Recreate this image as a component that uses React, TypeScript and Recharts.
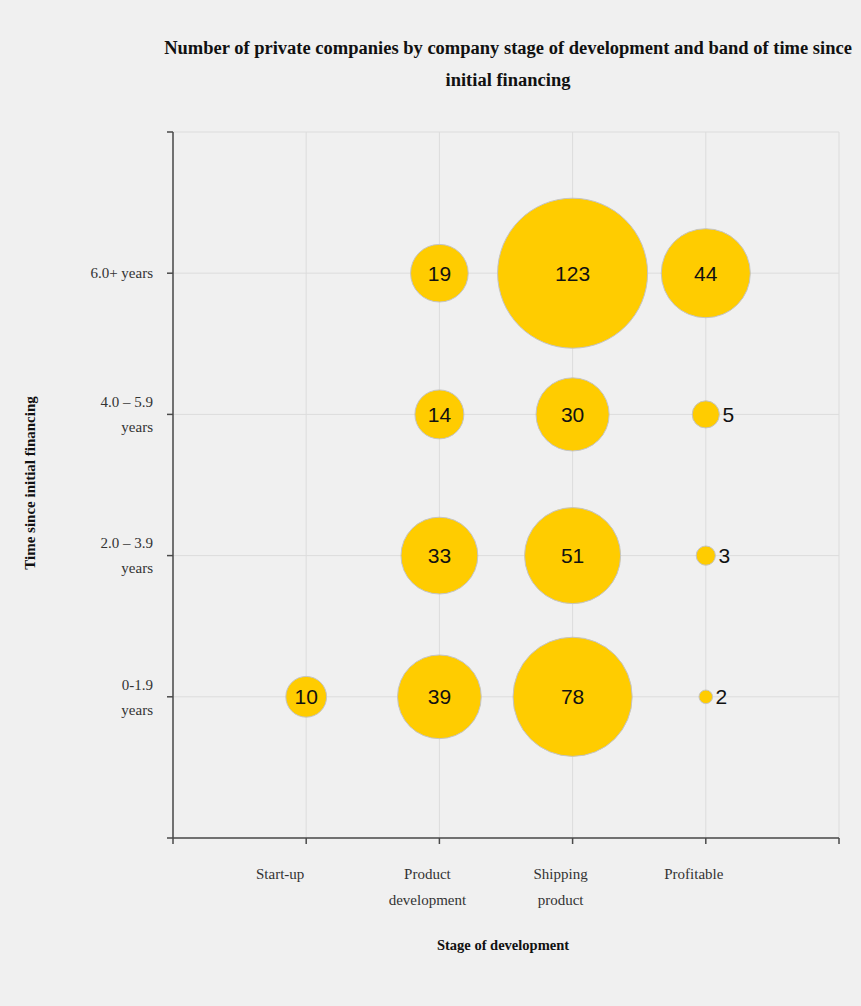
import React from 'react';
import { ScatterChart, Scatter, XAxis, YAxis, ZAxis, CartesianGrid, Label } from 'recharts';

// Categories on each axis
const stages = ['Start-up', 'Product development', 'Shipping product', 'Profitable'];
const bands = ['0-1.9 years', '2.0 – 3.9 years', '4.0 – 5.9 years', '6.0+ years'];

// Tick labels, already broken into lines
const stageTickLines = [['Start-up'], ['Product', 'development'], ['Shipping', 'product'], ['Profitable']];
const bandTickLines = [['0-1.9', 'years'], ['2.0 – 3.9', 'years'], ['4.0 – 5.9', 'years'], ['6.0+ years']];

// Title, broken into its two lines
const titleLines = [
  'Number of private companies by company stage of development and band of time since',
  'initial financing',
];

// Company counts per stage, ordered by band: 0-1.9, 2.0-3.9, 4.0-5.9, 6.0+
const startUp = [10, null, null, null];
const productDevelopment = [39, 33, 14, 19];
const shippingProduct = [78, 51, 30, 123];
const profitable = [2, 3, 5, 44];

const stageSeries = [startUp, productDevelopment, shippingProduct, profitable];

const points: { x: number; y: number; z: number; stage: string; band: string }[] = [];
stageSeries.forEach((values, i) => {
  values.forEach((v, j) => {
    if (v != null) points.push({ x: i + 1, y: j + 1, z: v, stage: stages[i], band: bands[j] });
  });
});

const axisTicks = [0, 1, 2, 3, 4, 5];

const SERIF = '"Liberation Serif", "Times New Roman", serif';
const SANS = '"Liberation Sans", Arial, sans-serif';
const BUBBLE = '#FFCC00';

const Bubble = (props: any) => {
  const { cx, cy, payload } = props;
  const r = props.width ? props.width / 2 : Math.sqrt(Math.max(props.size || 0, 0) / Math.PI);
  const outside = r < 16;
  return (
    <g>
      <circle cx={cx} cy={cy} r={r} fill={BUBBLE} stroke="#c4c4c4" strokeWidth={1} />
      <text
        x={outside ? cx + r + 3 : cx}
        y={cy}
        dy="0.36em"
        textAnchor={outside ? 'start' : 'middle'}
        fontFamily={SANS}
        fontSize={21}
        fill="#111"
      >
        {payload.z}
      </text>
    </g>
  );
};

const XTick = (props: any) => {
  const { x, y, payload } = props;
  const idx = payload.value - 1;
  const lines = stageTickLines[idx];
  if (!lines) return null;
  const nudge = idx === 0 ? -26 : -12;
  return (
    <text x={x + nudge} y={y + 33} textAnchor="middle" fontFamily={SERIF} fontSize={15} fill="#333">
      {lines.map((line, k) => (
        <tspan key={k} x={x + nudge} dy={k === 0 ? 0 : 26}>
          {line}
        </tspan>
      ))}
    </text>
  );
};

const YTick = (props: any) => {
  const { y, payload } = props;
  const idx = payload.value - 1;
  const lines = bandTickLines[idx];
  if (!lines) return null;
  const n = lines.length;
  return (
    <g>
      {lines.map((line, k) => (
        <text
          key={k}
          x={153}
          y={y + (k - (n - 1) / 2) * 25}
          dy="0.35em"
          textAnchor="end"
          fontFamily={SERIF}
          fontSize={15}
          fill="#333"
        >
          {line}
        </text>
      ))}
    </g>
  );
};

const XTitle = (props: any) => {
  const { viewBox } = props;
  const cx = viewBox.x + viewBox.width / 2;
  return (
    <text x={cx - 3} y={950} textAnchor="middle" fontFamily={SERIF} fontWeight="bold" fontSize={14.5} fill="#111">
      Stage of development
    </text>
  );
};

const YTitle = (props: any) => {
  const { viewBox } = props;
  const cy = viewBox.y + viewBox.height / 2 - 2;
  return (
    <text
      x={30}
      y={cy}
      transform={`rotate(-90, 30, ${cy})`}
      dy="0.35em"
      textAnchor="middle"
      fontFamily={SERIF}
      fontWeight="bold"
      fontSize={15}
      fill="#111"
    >
      Time since initial financing
    </text>
  );
};

export default function App() {
  return (
    <div style={{ position: 'absolute', left: 0, top: 0, width: 861, height: 1006, background: '#f0f0f0' }}>
      <div
        style={{
          position: 'absolute',
          left: 108,
          top: 32,
          width: 800,
          textAlign: 'center',
          fontFamily: SERIF,
          fontWeight: 'bold',
          fontSize: 18.5,
          lineHeight: '32px',
          color: '#111',
          whiteSpace: 'nowrap',
        }}
      >
        {titleLines.map((line, k) => (
          <div key={k}>{line}</div>
        ))}
      </div>
      <div style={{ position: 'absolute', left: 0, top: 0 }}>
        <ScatterChart width={861} height={1006} margin={{ top: 132, right: 22, bottom: 0, left: 0 }}>
          <CartesianGrid stroke="#dcdcdc" strokeWidth={1} />
          <XAxis
            type="number"
            dataKey="x"
            domain={[0, 5]}
            ticks={axisTicks}
            interval={0}
            height={168}
            tickSize={6}
            stroke="#4a4a4a"
            strokeWidth={1.5}
            tick={<XTick />}
          >
            <Label content={<XTitle />} />
          </XAxis>
          <YAxis
            type="number"
            dataKey="y"
            domain={[0, 5]}
            ticks={axisTicks}
            interval={0}
            width={173}
            tickSize={6}
            stroke="#4a4a4a"
            strokeWidth={1.5}
            tick={<YTick />}
          >
            <Label content={<YTitle />} />
          </YAxis>
          <ZAxis type="number" dataKey="z" domain={['dataMin - 1', 'dataMax']} range={[0, Math.PI * 75 * 75]} />
          <Scatter data={points} shape={<Bubble />} isAnimationActive={false} />
        </ScatterChart>
      </div>
    </div>
  );
}
